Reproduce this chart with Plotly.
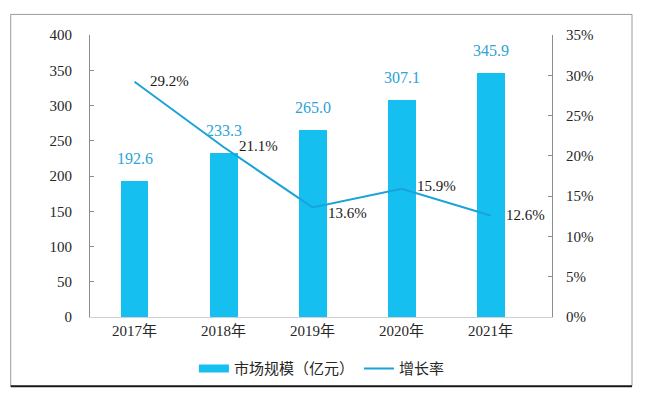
import plotly.graph_objects as go

years = ["2017年", "2018年", "2019年", "2020年", "2021年"]
market_size = [192.6, 233.3, 265.0, 307.1, 345.9]
growth_rate = [29.2, 21.1, 13.6, 15.9, 12.6]
y1_ticks = [0, 50, 100, 150, 200, 250, 300, 350, 400]
y2_ticks = [0, 5, 10, 15, 20, 25, 30, 35]

FONT = "Times New Roman, Liberation Serif, DejaVu Serif, Noto Sans CJK SC, serif"
BAR_C = "#15C0F0"
LINE_C = "#1AA3D9"
LABEL_C = "#2DA3D6"

fig = go.Figure()
fig.add_trace(go.Bar(
    x=years, y=market_size, name="市场规模（亿元）",
    marker=dict(color=BAR_C, line=dict(width=0)), width=0.314,
    yaxis="y", showlegend=False,
))
# legend-only entry drawn as a wide flat swatch like the original
fig.add_trace(go.Scatter(
    x=[None], y=[None], name="市场规模（亿元）", mode="lines",
    line=dict(color=BAR_C, width=8), yaxis="y",
))
fig.add_trace(go.Scatter(
    x=years, y=growth_rate, name="增长率", mode="lines",
    line=dict(color=LINE_C, width=2), yaxis="y2",
))

annotations = []
for x, v in zip(years, market_size):
    annotations.append(dict(
        x=x, y=v, xref="x", yref="y", text=f"{v:.1f}", showarrow=False,
        xanchor="center", yanchor="bottom", yshift=12,
        font=dict(family=FONT, size=16, color=LABEL_C)))
shifts = [1, 1, -6, 3, 0]
for x, v, s in zip(years, growth_rate, shifts):
    annotations.append(dict(
        x=x, y=v, xref="x", yref="y2", text=f"{v:.1f}%", showarrow=False,
        xanchor="left", yanchor="middle", xshift=13, yshift=s,
        font=dict(family=FONT, size=15, color="#1a1a1a")))

# page body has an 8px margin, so the figure is 8px smaller and offset
fig.update_layout(
    width=638, height=388,
    margin=dict(l=82, r=94, t=27, b=78),
    paper_bgcolor="white", plot_bgcolor="white",
    font=dict(family=FONT, size=15, color="#262626"),
    showlegend=True,
    legend=dict(orientation="h", x=0.502, xanchor="center", y=-0.179, yanchor="middle",
                font=dict(family=FONT, size=15, color="#262626"),
                itemwidth=30, tracegroupgap=0),
    xaxis=dict(type="category", range=[-0.5, 4.69], showgrid=False,
               showline=True, linecolor="#D0D0D0", linewidth=1,
               ticks="", tickfont=dict(family=FONT, size=15, color="#262626")),
    yaxis=dict(range=[0, 400], tickvals=y1_ticks, showgrid=False,
               showline=True, linecolor="#8C8C8C", linewidth=1,
               ticks="inside", ticklen=4, tickcolor="#8C8C8C",
               ticklabelstandoff=14, zeroline=False,
               tickfont=dict(family=FONT, size=15, color="#262626")),
    yaxis2=dict(range=[0, 35], tickvals=y2_ticks, ticktext=[f"{t}%" for t in y2_ticks],
                overlaying="y", side="right", showgrid=False,
                showline=True, linecolor="#8C8C8C", linewidth=1,
                ticks="inside", ticklen=4, tickcolor="#8C8C8C",
                ticklabelstandoff=10, zeroline=False,
                tickfont=dict(family=FONT, size=15, color="#262626")),
    annotations=annotations,
    shapes=[
        dict(type="rect", xref="paper", yref="paper",
             x0=(10.7 - 90) / 462, x1=(632 - 90) / 462,
             y0=(318.3 - 388) / 283.6, y1=(318.3 - 14) / 283.6,
             line=dict(color="#9A9A9A", width=1), layer="below"),
        dict(type="line", xref="paper", yref="paper",
             x0=(10.7 - 90) / 462, x1=(632 - 90) / 462,
             y0=(318.3 - 388) / 283.6, y1=(318.3 - 388) / 283.6,
             line=dict(color="#1a1a1a", width=2)),
    ],
    bargap=0,
)

fig.write_html("out.html")
